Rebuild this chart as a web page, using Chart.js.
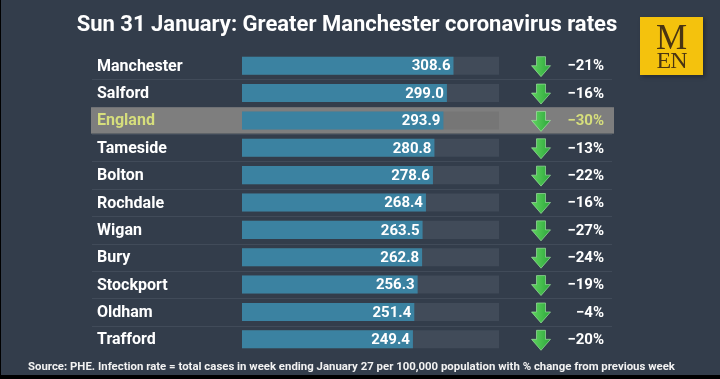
<!DOCTYPE html>
<html>
<head>
<meta charset="utf-8">
<script src="https://cdn.jsdelivr.net/npm/chart.js@4.4.1/dist/chart.umd.min.js"></script>
<style>
  html, body { margin: 0; padding: 0; background: #000; }
  #frame {
    position: absolute; left: 1px; top: 0; width: 719px; height: 375px;
    background: #333d4b; overflow: hidden;
  }
  #chart { position: absolute; left: -1px; top: 0; }
  #title {
    position: absolute; left: 0; top: 11px; width: 692px; text-align: center;
    font: bold 22px Roboto, sans-serif; color: #fff; white-space: nowrap;
  }
  #source {
    position: absolute; left: 27px; top: 360px; white-space: nowrap;
    font: bold 11px Roboto, sans-serif; color: #f2f2f2; transform-origin: 0 0;
  }
  #logo {
    position: absolute; left: 639px; top: 17px; width: 63px; height: 58px;
    background: #f4c20d; box-shadow: 2px 2px 4px rgba(0,0,0,0.3);
    font-family: "Liberation Serif", "DejaVu Serif", serif; color: #4a3512;
    text-align: center; line-height: 1;
  }
  #logo .m { position: absolute; left: 0; width: 100%; top: 3px; font-size: 35px; }
  #logo .en { position: absolute; left: 0; width: 100%; top: 31px; font-size: 24px; letter-spacing: -1px; }
</style>
</head>
<body>
<div id="frame">
  <canvas id="chart" width="720" height="379"></canvas>
  <div id="title">Sun 31 January: Greater Manchester coronavirus rates</div>
  <div id="logo"><span class="m">M</span><span class="en">EN</span></div>
  <div id="source">Source: PHE. Infection rate = total cases in week ending January 27 per 100,000 population with % change from previous week</div>
</div>
<script>
// --- Data ---
const areas = ['Manchester', 'Salford', 'England', 'Tameside', 'Bolton', 'Rochdale',
               'Wigan', 'Bury', 'Stockport', 'Oldham', 'Trafford'];
const rates = [308.6, 299.0, 293.9, 280.8, 278.6, 268.4, 263.5, 262.8, 256.3, 251.4, 249.4];
const changes = ['-21%', '-16%', '-30%', '-13%', '-22%', '-16%', '-27%', '-24%', '-19%', '-4%', '-20%'];
const trackMax = 375;
const highlight = 'England';

// fit the source line to the width it has in the picture
const src = document.getElementById('source');
src.style.transform = 'scaleX(' + (647 / src.offsetWidth) + ')';

const hi = areas.indexOf(highlight);
const track = areas.map(() => trackMax);

function rowBand(chart, i) {
    const y = chart.scales.y;
    const c = y.getPixelForValue(i);
    const h = (y.bottom - y.top) / areas.length;
    return { c: c, top: c - h / 2, bottom: c + h / 2 };
}

function drawArrow(ctx, cx, cy) {
    const g = ctx.createLinearGradient(cx - 9, 0, cx + 9, 0);
    g.addColorStop(0, '#5fd45f');
    g.addColorStop(1, '#2ea83c');
    ctx.beginPath();
    ctx.moveTo(cx - 4.5, cy - 10);
    ctx.lineTo(cx + 4.5, cy - 10);
    ctx.lineTo(cx + 4.5, cy - 1);
    ctx.lineTo(cx + 9.5, cy - 1);
    ctx.lineTo(cx, cy + 10);
    ctx.lineTo(cx - 9.5, cy - 1);
    ctx.lineTo(cx - 4.5, cy - 1);
    ctx.closePath();
    ctx.fillStyle = g;
    ctx.fill();
    ctx.strokeStyle = 'rgba(170,240,170,0.6)';
    ctx.lineWidth = 1;
    ctx.stroke();
}

const rowsPlugin = {
    id: 'rows',
    beforeDatasetsDraw(chart) {
        const ctx = chart.ctx;
        ctx.save();
        // separators
        ctx.strokeStyle = '#414b59';
        ctx.lineWidth = 1;
        for (let i = 1; i < areas.length; i++) {
            const b = rowBand(chart, i);
            ctx.beginPath();
            ctx.moveTo(92, Math.round(b.top) + 0.5);
            ctx.lineTo(612, Math.round(b.top) + 0.5);
            ctx.stroke();
        }
        // highlighted row
        const b = rowBand(chart, hi);
        ctx.fillStyle = '#7e7e7e';
        ctx.fillRect(91, b.top + 0.5, 523, b.bottom - b.top - 1);
        ctx.restore();
    },
    afterDatasetsDraw(chart) {
        const ctx = chart.ctx;
        const meta = chart.getDatasetMeta(1);
        ctx.save();
        ctx.textBaseline = 'middle';
        areas.forEach((name, i) => {
            const b = rowBand(chart, i);
            const isHi = i === hi;
            // area name
            ctx.font = 'bold 16px Roboto, sans-serif';
            ctx.textAlign = 'left';
            ctx.fillStyle = isHi ? '#d6de7c' : '#ffffff';
            ctx.fillText(name, 97, b.c + 1);
            // value inside bar
            const bar = meta.data[i];
            ctx.font = 'bold 15px Roboto, sans-serif';
            ctx.textAlign = 'right';
            ctx.fillStyle = '#ffffff';
            ctx.fillText(rates[i].toFixed(1), bar.x - 3, b.c + 1);
            // arrow and change
            drawArrow(ctx, 541, b.c + 1);
            ctx.font = 'bold 15px Roboto, sans-serif';
            ctx.fillStyle = isHi ? '#d6de7c' : '#ffffff';
            ctx.fillText(changes[i].replace('-', '\u2212'), 604, b.c + 1);
        });
        ctx.restore();
    }
};

new Chart(document.getElementById('chart'), {
    type: 'bar',
    data: {
        labels: areas,
        datasets: [{
            data: track,
            backgroundColor: areas.map((a, i) => i === hi ? '#767676' : '#414b59'),
            order: 2
        }, {
            data: rates,
            backgroundColor: '#3b82a1',
            order: 1
        }]
    },
    options: {
        indexAxis: 'y',
        responsive: false,
        animation: false,
        events: [],
        layout: { padding: { left: 242, right: 221, top: 52, bottom: 26 } },
        datasets: { bar: { grouped: false, categoryPercentage: 1, barPercentage: 0.66 } },
        plugins: { legend: { display: false }, tooltip: { enabled: false } },
        scales: {
            x: { display: false, min: 0, max: trackMax },
            y: { display: false }
        }
    },
    plugins: [rowsPlugin]
});
</script>
</body>
</html>
